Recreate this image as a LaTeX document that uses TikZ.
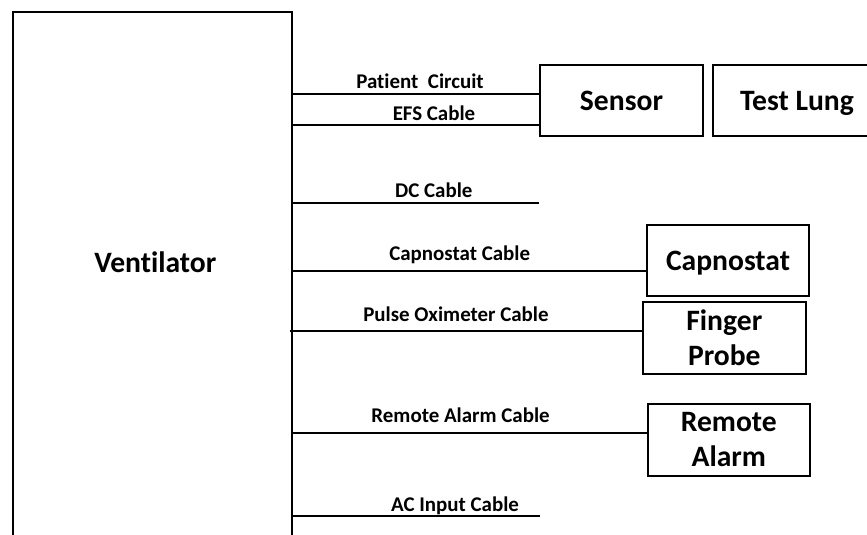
\documentclass[tikz,border=0pt]{standalone}
\usepackage{fontspec}
\setmainfont{Carlito}[Ligatures=NoCommon]
\begin{document}
\begin{tikzpicture}[x=0.75pt,y=-0.75pt,line width=1.5pt,
  unit/.style={draw,line width=1.5pt,inner sep=0pt,align=center,
    font=\bfseries\fontsize{22.2}{26.25}\selectfont},
  cablelabel/.style={anchor=base,inner sep=0pt,
    font=\bfseries\fontsize{15.7}{18}\selectfont},
  cable/.style={line width=1.5pt}]
\clip (0,0) rectangle (867,535);

% main unit, open at the bottom of the page
\node[draw,line width=1.5pt,anchor=north west,minimum width=209.25pt,
  minimum height=411.75pt,inner sep=0pt] (vent) at (12,11) {};
\node[anchor=base,inner sep=0pt,font=\bfseries\fontsize{22.2}{26.25}\selectfont]
  (ventlabel) at (155.3,272.7) {Ventilator};

% attached devices
\node[unit,minimum width=122.25pt,minimum height=53.25pt,text depth=0pt]
  (sensor) at (621.5,100.5) {Sensor};
\node[unit,minimum width=126pt,minimum height=53.25pt,text depth=0pt]
  (lung) at (797,100.5) {Test Lung};
\node[unit,minimum width=121.5pt,minimum height=53.25pt,text depth=0pt]
  (capno) at (728,260.5) {Capnostat};
\node[unit,minimum width=122.25pt,minimum height=54pt]
  (finger) at (724.3,338) {Finger\\Probe};
\node[unit,minimum width=121.9pt,minimum height=54pt]
  (alarm) at (728.8,440) {Remote\\Alarm};

% loose cable ends
\coordinate (dcend) at (539,203.3);
\coordinate (acend) at (540,516);

% cables
\draw[cable] (vent.east |- 0,94) -- (sensor.west |- 0,94);
\draw[cable] (vent.east |- 0,125) -- (sensor.west |- 0,125);
\draw[cable] (vent.east |- dcend) -- (dcend);
\draw[cable] (vent.east |- 0,270.7) -- (capno.west |- 0,270.7);
\draw[cable] (vent.east |- 0,331) ++(-3.5,0) -- (finger.west |- 0,331);
\draw[cable] (vent.east |- 0,432.7) -- (alarm.west |- 0,432.7);
\draw[cable] (vent.east |- acend) -- (acend);

% cable names
\node[cablelabel] (lpc) at (420,89) {Patient\ \ Circuit};
\node[cablelabel] (lefs) at (434,120) {EFS Cable};
\node[cablelabel] (ldc) at (433.8,197.3) {DC Cable};
\node[cablelabel] (lcap) at (459.7,260) {Capnostat Cable};
\node[cablelabel] (lpo) at (456,321.7) {Pulse Oximeter Cable};
\node[cablelabel] (lra) at (460.6,422.3) {Remote Alarm Cable};
\node[cablelabel] (lac) at (455,511.7) {AC Input Cable};
\end{tikzpicture}
\end{document}
